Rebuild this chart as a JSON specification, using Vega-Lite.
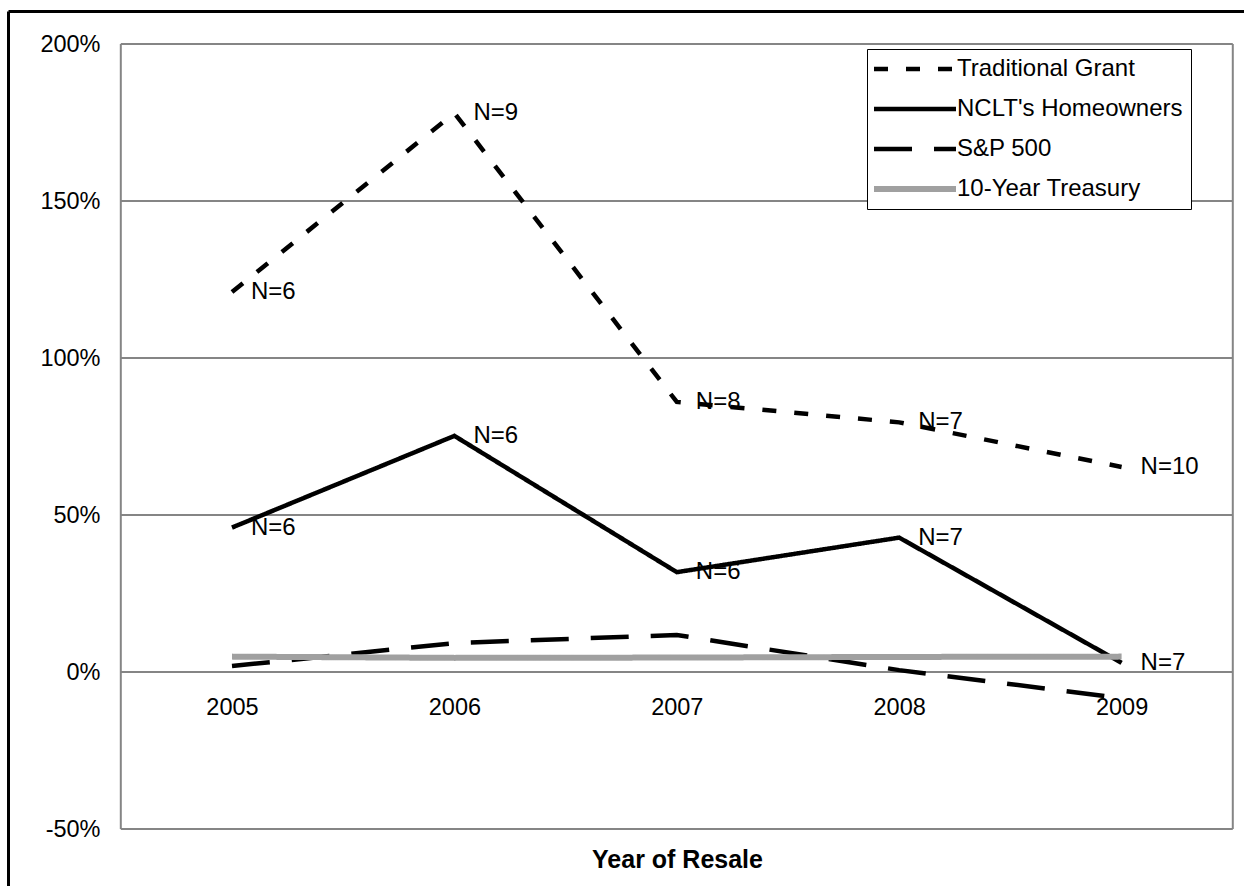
{
  "$schema": "https://vega.github.io/schema/vega-lite/v6.json",
  "width": 1236,
  "height": 875,
  "autosize": "none",
  "padding": {"left": 8, "top": 11, "right": 0, "bottom": 0},
  "background": "white",
  "config": {
    "view": {"stroke": null},
    "font": "Liberation Sans",
    "axis": {"grid": false, "labelFlush": false, "labelOverlap": false, "labelBound": false}
  },
  "resolve": {"axis": {"x": "independent", "y": "independent"}},
  "layer": [
    {
      "data": {"values": [{"v": -50}, {"v": 0}, {"v": 50}, {"v": 100}, {"v": 150}, {"v": 200}]},
      "mark": {"type": "rule", "color": "#858585", "strokeWidth": 2},
      "encoding": {
        "x": {
          "datum": 2004.5, "type": "quantitative",
          "scale": {"domain": [2003.9928, 2009.5504], "nice": false, "zero": false},
          "axis": {"orient": "top", "domain": true, "domainColor": "black", "domainWidth": 3, "ticks": false, "labels": false, "title": null}
        },
        "x2": {"datum": 2009.5},
        "y": {
          "field": "v", "type": "quantitative",
          "scale": {"domain": [-68.15, 210.51], "nice": false, "zero": false},
          "axis": {"orient": "left", "domain": true, "domainColor": "black", "domainWidth": 3, "ticks": false, "labels": false, "title": null}
        }
      }
    },
    {
      "data": {"values": [{"edge": 2004.5}, {"edge": 2009.5}]},
      "mark": {"type": "rule", "color": "#858585", "strokeWidth": 2},
      "encoding": {
        "x": {
          "field": "edge", "type": "quantitative",
          "axis": {
            "orient": "bottom", "offset": -214, "values": [2005, 2006, 2007, 2008, 2009], "format": "d",
            "domain": false, "ticks": false, "tickSize": 0, "labelPadding": 35, "labelBaseline": "middle",
            "labelFontSize": 23.5, "labelColor": "black", "labelFont": "Liberation Sans",
            "title": "Year of Resale", "titleFontSize": 25, "titleFontWeight": "bold", "titleColor": "black",
            "titleFont": "Liberation Sans", "titleX": 669, "titleY": 187, "titleBaseline": "middle", "titleAlign": "center"
          }
        },
        "y": {
          "datum": -50, "type": "quantitative",
          "axis": {
            "orient": "left", "offset": -113, "values": [-50, 0, 50, 100, 150, 200],
            "labelExpr": "datum.value + '%'", "domain": false, "ticks": false, "tickSize": 0,
            "labelPadding": 21, "labelFontSize": 23.5, "labelColor": "black", "labelFont": "Liberation Sans", "title": null
          }
        },
        "y2": {"datum": 200}
      }
    },
    {
      "data": {"name": "returns"},
      "mark": {"type": "line", "strokeJoin": "miter", "strokeCap": "butt"},
      "encoding": {
        "x": {"field": "year", "type": "quantitative", "axis": null},
        "y": {"field": "value", "type": "quantitative", "axis": null},
        "color": {
          "field": "series", "type": "nominal",
          "scale": {
            "domain": ["Traditional Grant", "NCLT's Homeowners", "S&P 500", "10-Year Treasury"],
            "range": ["black", "black", "black", "#a0a0a0"]
          },
          "legend": {
            "orient": "none", "legendX": 859, "legendY": 38, "title": null,
            "symbolType": "stroke", "symbolSize": 6724, "symbolStrokeWidth": 4.5, "symbolOffset": 28,
            "labelFontSize": 24, "labelFont": "Liberation Sans", "labelColor": "black", "labelOffset": 30,
            "labelLimit": 400, "rowPadding": 16, "padding": 8,
            "strokeColor": "black", "fillColor": "white",
            "encode": {"symbols": {"update": {"strokeWidth": {"signal": "datum.value === '10-Year Treasury' ? 6 : 4.5"}}}}
          }
        },
        "strokeDash": {
          "field": "series", "type": "nominal",
          "scale": {
            "domain": ["Traditional Grant", "NCLT's Homeowners", "S&P 500", "10-Year Treasury"],
            "range": [[14, 18], [1, 0], [38, 22], [1, 0]]
          },
          "legend": {
            "orient": "none", "legendX": 859, "legendY": 38, "title": null,
            "symbolType": "stroke", "symbolSize": 6724, "symbolStrokeWidth": 4.5, "symbolOffset": 28,
            "labelFontSize": 24, "labelFont": "Liberation Sans", "labelColor": "black", "labelOffset": 30,
            "labelLimit": 400, "rowPadding": 16, "padding": 8,
            "strokeColor": "black", "fillColor": "white",
            "encode": {"symbols": {"update": {"strokeWidth": {"signal": "datum.value === '10-Year Treasury' ? 6 : 4.5"}}}}
          }
        },
        "strokeWidth": {
          "condition": {"test": "datum.series === '10-Year Treasury'", "value": 6},
          "value": 4.5
        }
      }
    },
    {
      "data": {"name": "returns"},
      "transform": [{"filter": "datum.label != null"}],
      "mark": {"type": "text", "align": "left", "baseline": "middle", "dx": 19, "fontSize": 24, "font": "Liberation Sans", "color": "black"},
      "encoding": {
        "x": {"field": "year", "type": "quantitative", "axis": null},
        "y": {"field": "value", "type": "quantitative", "axis": null},
        "text": {"field": "label", "type": "nominal"}
      }
    }
  ],
  "datasets": {
    "returns": [
      {"series": "Traditional Grant", "year": 2005, "value": 121, "label": "N=6"},
      {"series": "Traditional Grant", "year": 2006, "value": 178, "label": "N=9"},
      {"series": "Traditional Grant", "year": 2007, "value": 86, "label": "N=8"},
      {"series": "Traditional Grant", "year": 2008, "value": 79.5, "label": "N=7"},
      {"series": "Traditional Grant", "year": 2009, "value": 65.3, "label": "N=10"},
      {"series": "NCLT's Homeowners", "year": 2005, "value": 46, "label": "N=6"},
      {"series": "NCLT's Homeowners", "year": 2006, "value": 75.2, "label": "N=6"},
      {"series": "NCLT's Homeowners", "year": 2007, "value": 31.8, "label": "N=6"},
      {"series": "NCLT's Homeowners", "year": 2008, "value": 42.8, "label": "N=7"},
      {"series": "NCLT's Homeowners", "year": 2009, "value": 2.9, "label": "N=7"},
      {"series": "S&P 500", "year": 2005, "value": 1.9},
      {"series": "S&P 500", "year": 2006, "value": 9.2},
      {"series": "S&P 500", "year": 2007, "value": 11.8},
      {"series": "S&P 500", "year": 2008, "value": 0.6},
      {"series": "S&P 500", "year": 2009, "value": -8.3},
      {"series": "10-Year Treasury", "year": 2005, "value": 4.9},
      {"series": "10-Year Treasury", "year": 2006, "value": 4.5},
      {"series": "10-Year Treasury", "year": 2007, "value": 4.6},
      {"series": "10-Year Treasury", "year": 2008, "value": 4.8},
      {"series": "10-Year Treasury", "year": 2009, "value": 4.9}
    ]
  }
}
